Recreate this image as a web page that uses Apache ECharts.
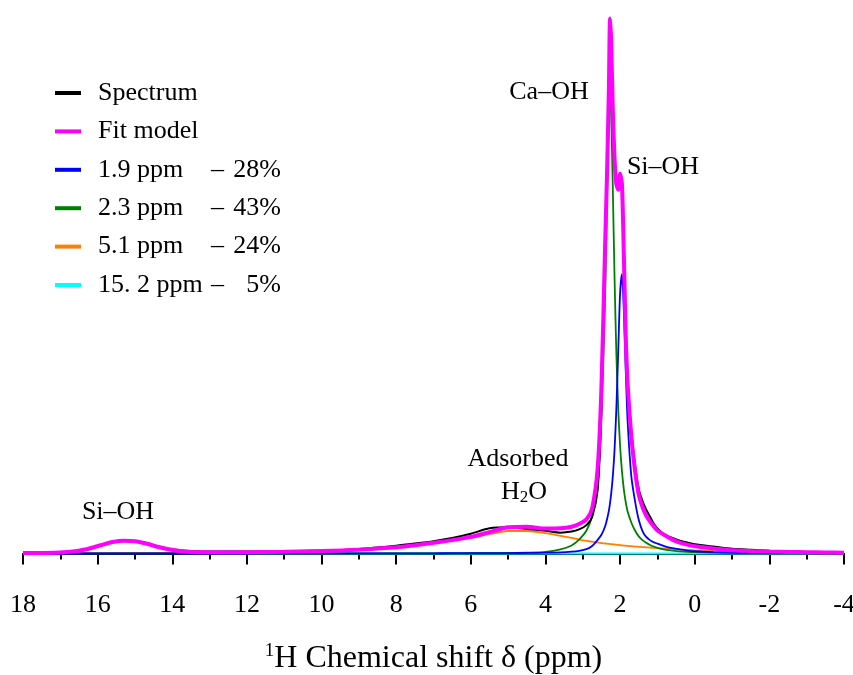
<!DOCTYPE html>
<html><head><meta charset="utf-8">
<script src="https://cdn.jsdelivr.net/npm/echarts@6/dist/echarts.min.js"></script>
<style>html,body{margin:0;padding:0;background:#fff}#c{width:853px;height:675px}</style>
</head><body><div id="c"></div>
<script>
// chemical shift sample points (ppm)
const ppm = [18, 17.5, 17, 16.5, 16.2, 15.9, 15.6, 15.3, 15.0, 14.7,
  14.4, 14.1, 13.8, 13.5, 13, 12, 11, 10, 9, 8,
  7.5, 7, 6.5, 6, 5.5, 5, 4.5, 4, 3.6, 3.3,
  3.1, 2.9, 2.75, 2.6, 2.5, 2.4, 2.35, 2.3, 2.27, 2.24,
  2.2, 2.15, 2.1, 2.05, 2.0, 1.95, 1.9, 1.85, 1.8, 1.7,
  1.6, 1.5, 1.4, 1.3, 1.2, 1.1, 1.0, 0.8, 0.6, 0.4,
  0.2, 0, -0.5, -1, -1.5, -2, -2.5, -3, -3.5, -4];

const spectrum = [0.05, 0.08, 0.15, 0.45, 0.9, 1.6, 2.2, 2.45, 2.35, 1.95,
  1.35, 0.9, 0.6, 0.45, 0.35, 0.35, 0.45, 0.55, 0.85, 1.45,
  1.85, 2.3, 2.9, 3.7, 4.7, 4.9, 4.6, 4.25, 3.9, 4.1,
  4.5, 5.3, 6.8, 12, 27, 57, 72, 88, 99, 95,
  83, 73, 69, 68, 71, 68, 54, 40, 32, 23,
  16.5, 12, 9.8, 8.2, 6.9, 5.6, 4.7, 3.5, 2.9, 2.4,
  2.05, 1.75, 1.3, 0.88, 0.7, 0.53, 0.38, 0.28, 0.2, 0.15];

const fitModel = [0.07, 0.1, 0.18, 0.52, 0.98, 1.58, 2.14, 2.4, 2.3, 1.86,
  1.27, 0.78, 0.47, 0.3, 0.22, 0.25, 0.32, 0.45, 0.7, 1.15,
  1.55, 2.0, 2.5, 3.1, 4.0, 4.9, 5.0, 4.65, 4.7, 5.0,
  5.5, 6.4, 8.4, 16, 31, 58, 71, 87, 100, 96,
  84, 74, 69, 68, 71, 69, 56, 41, 32, 22,
  15.5, 11, 8.7, 7.1, 6.0, 5.1, 4.3, 3.4, 2.6, 2.05,
  1.65, 1.35, 0.95, 0.6, 0.48, 0.38, 0.3, 0.24, 0.19, 0.16];

const peak19 = [0, 0, 0, 0, 0, 0, 0, 0, 0, 0,
  0, 0, 0, 0, 0, 0, 0.01, 0.01, 0.02, 0.03,
  0.03, 0.04, 0.05, 0.06, 0.07, 0.08, 0.1, 0.15, 0.22, 0.35,
  0.5, 0.8, 1.4, 2.55, 3.5, 5.1, 6.4, 8.0, 9.4, 11.1,
  14.0, 19.2, 27.1, 37.8, 48.6, 52.2, 45.5, 34.5, 25, 14.5,
  9.8, 6.3, 4.2, 3.1, 2.5, 2.1, 1.85, 1.35, 1.0, 0.75,
  0.55, 0.42, 0.25, 0.16, 0.11, 0.08, 0.06, 0.05, 0.04, 0.03];

const peak23 = [0, 0, 0, 0, 0, 0, 0, 0, 0, 0,
  0, 0, 0, 0, 0, 0, 0, 0, 0.01, 0.01,
  0.01, 0.02, 0.03, 0.05, 0.07, 0.1, 0.15, 0.3, 0.75, 1.5,
  2.6, 4.3, 7.0, 13, 26, 48.7, 66.4, 82, 85.3, 82,
  70, 52, 37.4, 27.1, 20.1, 15.4, 12.0, 9.65, 7.9, 5.8,
  4.3, 3.2, 2.5, 2.0, 1.6, 1.3, 1.05, 0.72, 0.52, 0.4,
  0.3, 0.24, 0.15, 0.1, 0.07, 0.05, 0.04, 0.03, 0.03, 0.02];

const peak51 = [0.05, 0.05, 0.06, 0.07, 0.08, 0.08, 0.09, 0.1, 0.1, 0.11,
  0.12, 0.13, 0.14, 0.15, 0.18, 0.24, 0.32, 0.45, 0.7, 1.1,
  1.5, 1.9, 2.4, 2.9, 3.6, 4.2, 4.2, 3.8, 3.3, 2.9,
  2.6, 2.35, 2.2, 2.05, 1.95, 1.87, 1.83, 1.79, 1.77, 1.75,
  1.72, 1.68, 1.64, 1.6, 1.56, 1.52, 1.48, 1.45, 1.42, 1.36,
  1.3, 1.25, 1.2, 1.15, 1.1, 1.05, 1.0, 0.92, 0.85, 0.75,
  0.68, 0.6, 0.48, 0.38, 0.3, 0.24, 0.19, 0.15, 0.12, 0.1];

const peak152 = [0.02, 0.05, 0.12, 0.45, 0.9, 1.5, 2.05, 2.3, 2.2, 1.75,
  1.15, 0.65, 0.33, 0.15, 0.04, 0, 0, 0, 0, 0,
  0, 0, 0, 0, 0, 0, 0, 0, 0, 0,
  0, 0, 0, 0, 0, 0, 0, 0, 0, 0,
  0, 0, 0, 0, 0, 0, 0, 0, 0, 0,
  0, 0, 0, 0, 0, 0, 0, 0, 0, 0,
  0, 0, 0, 0, 0, 0, 0, 0, 0, 0];

const seriesNames = ['Spectrum', 'Fit model', '1.9 ppm', '2.3 ppm', '5.1 ppm', '15. 2 ppm'];
const percents = {'1.9 ppm': '28%', '2.3 ppm': '43%', '5.1 ppm': '24%', '15. 2 ppm': '5%'};

const SERIF = '"Liberation Serif", "Times New Roman", serif';
function pairs(v) { return ppm.map((x, i) => [x, v[i]]); }
function line(name, vals, color, width, z) {
  return { name, type: 'line', data: pairs(vals), showSymbol: false, symbol: 'none',
    smooth: 0.25, z, lineStyle: { color, width }, itemStyle: { color } };
}

const chart = echarts.init(document.getElementById('c'));
chart.setOption({
  animation: false,
  backgroundColor: '#fff',
  grid: { left: 23, right: 9, top: 10, bottom: 103, containLabel: false, outerBoundsMode: 'none' },
  xAxis: {
    type: 'value', inverse: true, min: -4, max: 18, interval: 2,
    axisLine: { lineStyle: { color: '#000', width: 2 } },
    axisTick: { length: 11, lineStyle: { color: '#000', width: 2 } },
    minorTick: { show: true, splitNumber: 2, length: 6, lineStyle: { color: '#000', width: 2 } },
    splitLine: { show: false },
    axisLabel: { color: '#000', fontSize: 26, fontFamily: SERIF, margin: 20 },
    name: '{sup|1}H Chemical shift δ (ppm)',
    nameLocation: 'middle', nameGap: 70,
    nameTextStyle: { color: '#000', fontSize: 32, fontFamily: SERIF,
      rich: { sup: { fontSize: 19, fontFamily: SERIF, color: '#000', padding: [0, 0, 14, 0] } } }
  },
  yAxis: { type: 'value', min: -3.46, max: 101.6, show: false, splitLine: { show: false } },
  legend: {
    data: seriesNames, orient: 'vertical', left: 50, top: 73,
    icon: 'rect', itemWidth: 26, itemHeight: 4, itemGap: 8.4,
    textStyle: { color: '#000', fontSize: 26, fontFamily: SERIF, lineHeight: 30,
      rich: {
        s: { width: 12 },
        a: { width: 113, fontSize: 26, fontFamily: SERIF, color: '#000', lineHeight: 30 },
        b: { width: 13, align: 'center', fontSize: 26, fontFamily: SERIF, color: '#000', lineHeight: 30 },
        c: { width: 57, align: 'right', fontSize: 26, fontFamily: SERIF, color: '#000', lineHeight: 30 }
      } },
    formatter: function (n) {
      if (percents[n]) return '{s| }{a|' + n + '}{b|–}{c|' + percents[n] + '}';
      return '{s| }{a|' + n + '}';
    }
  },
  series: [
    line('15. 2 ppm', peak152, '#00FFFF', 2, 1),
    line('5.1 ppm', peak51, '#FF8000', 1.8, 2),
    line('2.3 ppm', peak23, '#008000', 1.8, 3),
    line('1.9 ppm', peak19, '#0000FF', 1.8, 4),
    line('Spectrum', spectrum, '#000000', 2, 5),
    line('Fit model', fitModel, '#FF00FF', 4, 6)
  ],
  graphic: [
    { type: 'text', x: 549, y: 92, style: { text: 'Ca–OH', font: '26px ' + SERIF, fill: '#000', align: 'center', verticalAlign: 'middle' } },
    { type: 'text', x: 663, y: 167, style: { text: 'Si–OH', font: '26px ' + SERIF, fill: '#000', align: 'center', verticalAlign: 'middle' } },
    { type: 'text', x: 518, y: 459, style: { text: 'Adsorbed', font: '26px ' + SERIF, fill: '#000', align: 'center', verticalAlign: 'middle' } },
    { type: 'text', x: 524, y: 492, style: { text: 'H{sub|2}O', font: '26px ' + SERIF, fill: '#000', align: 'center', verticalAlign: 'middle',
      rich: { sub: { fontSize: 17, fontFamily: SERIF, fill: '#000', padding: [12, 0, 0, 0] } } } },
    { type: 'text', x: 118, y: 512, style: { text: 'Si–OH', font: '26px ' + SERIF, fill: '#000', align: 'center', verticalAlign: 'middle' } }
  ]
});
</script>
</body></html>
